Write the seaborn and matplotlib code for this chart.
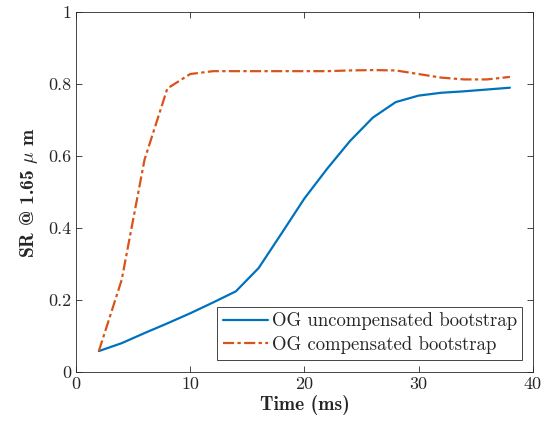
import seaborn as sns
import pandas as pd
import matplotlib.pyplot as plt

time_ms = [2, 4, 6, 8, 10, 12, 14, 16, 18, 20, 22, 24, 26, 28, 30, 32, 34, 36, 38]
sr_uncomp = [0.058, 0.080, 0.108, 0.135, 0.163, 0.193, 0.224, 0.289, 0.385, 0.482,
             0.565, 0.642, 0.707, 0.750, 0.768, 0.776, 0.780, 0.785, 0.790]
sr_comp = [0.058, 0.256, 0.590, 0.788, 0.828, 0.836, 0.836, 0.836, 0.836, 0.836,
           0.836, 0.838, 0.839, 0.838, 0.828, 0.818, 0.813, 0.813, 0.820]
labels = ["OG uncompensated bootstrap", "OG compensated bootstrap"]

sns.set_style("ticks")
plt.rcParams["font.family"] = ["cmr10", "DejaVu Serif"]
plt.rcParams["mathtext.fontset"] = "cm"
plt.rcParams["axes.formatter.use_mathtext"] = True
plt.rcParams["axes.unicode_minus"] = False

fig = plt.figure(figsize=(5.59, 4.34), dpi=100)
ax = fig.add_axes([0.136, 0.143, 0.817, 0.829])

df1 = pd.DataFrame({"t": time_ms, "sr": sr_uncomp})
df2 = pd.DataFrame({"t": time_ms, "sr": sr_comp})
sns.lineplot(data=df1, x="t", y="sr", ax=ax, color="#0072BD", lw=1.6, label=labels[0])
sns.lineplot(data=df2, x="t", y="sr", ax=ax, color="#D95319", lw=1.6,
             linestyle=(0, (5, 1.5, 1.5, 1.5)), label=labels[1])

ax.set_xlim(0, 40)
ax.set_ylim(0, 1)
ax.set_xticks([0, 10, 20, 30, 40])
ax.set_yticks([0, 0.2, 0.4, 0.6, 0.8, 1])
ax.set_xticklabels(["0", "10", "20", "30", "40"])
ax.set_yticklabels(["0", "0.2", "0.4", "0.6", "0.8", "1"])
ax.tick_params(direction="in", top=True, right=True, labelsize=13, colors="#262626",
               length=4, width=0.6)
for s in ax.spines.values():
    s.set_linewidth(0.6)
    s.set_color("#262626")

ax.set_xlabel("Time (ms)", family="cmb10", fontsize=14, color="#262626", labelpad=2)
ax.set_ylabel(r"SR @ 1.65 $\mu$ m", family="cmb10", fontsize=14, color="#262626", labelpad=6)

leg = ax.legend(loc="lower right", bbox_to_anchor=(0.998, 0.008), fontsize=13.5,
                fancybox=False, framealpha=1, edgecolor="#262626",
                handlelength=2.4, handletextpad=0.2, borderpad=0.3, labelspacing=0.3)
leg.get_frame().set_linewidth(0.6)

plt.savefig("out.png", dpi=100)
